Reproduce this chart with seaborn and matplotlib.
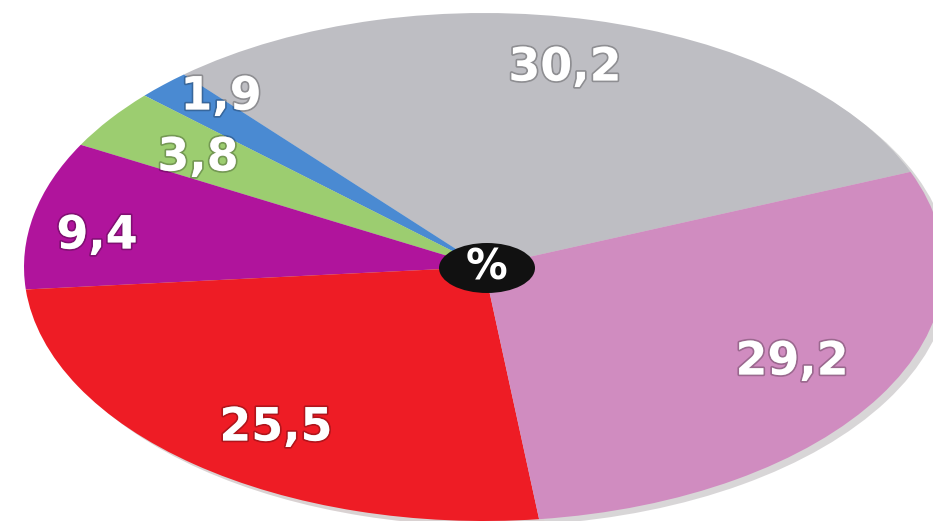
import matplotlib
matplotlib.use("Agg")
import matplotlib.pyplot as plt
import matplotlib.patheffects as pe
from matplotlib.patches import Ellipse
import seaborn as sns

# ---- data ----
labels = ["30,2", "1,9", "3,8", "9,4", "25,5", "29,2"]
values = [30.2, 1.9, 3.8, 9.4, 25.5, 29.2]
colors = ["#bebec3", "#4a8ad2", "#9ccd70", "#b0149c", "#ee1c25", "#d08cc0"]
center_label = "%"

# label positions in figure pixels (layout)
label_px = [(565, 68), (221, 97), (198, 158), (97, 236), (276, 428), (792, 362)]

W, H = 933, 521
sns.set_style("white")
plt.rcParams['font.family'] = ['DejaVu Sans']

fig = plt.figure(figsize=(W / 100, H / 100), dpi=100)
ax = fig.add_axes([0, 0, 1, 1])

cx, cy, rx, ry = 484, 267, 460, 254

ax.pie(values, colors=colors, startangle=22, counterclock=True,
       wedgeprops=dict(linewidth=0),
       shadow=dict(ox=0.01, oy=-0.014, shade=0.8, alpha=0.18))
ax.set_aspect('auto')
ax.set_xlim(-cx / rx, (W - cx) / rx)
ax.set_ylim(-(H - cy) / ry, cy / ry)
ax.axis('off')

shadow_fx = [pe.withStroke(linewidth=2.5, foreground=(0, 0, 0, 0.25))]
for lab, (px, py) in zip(labels, label_px):
    fig.text(px / W, 1 - py / H, lab, ha='center', va='center',
             fontsize=33, fontweight='bold', color='white',
             path_effects=shadow_fx)

# center badge
ex = (487 - cx) / rx
ey = (cy - 268) / ry
ax.add_patch(Ellipse((ex, ey), 96 / rx, 50 / ry, facecolor='#111111',
                     edgecolor='none', zorder=5))
ax.text(ex, ey, center_label, ha='center', va='center', fontsize=30,
        fontweight='bold', color='white', zorder=6)

fig.savefig("out.png", dpi=100)
